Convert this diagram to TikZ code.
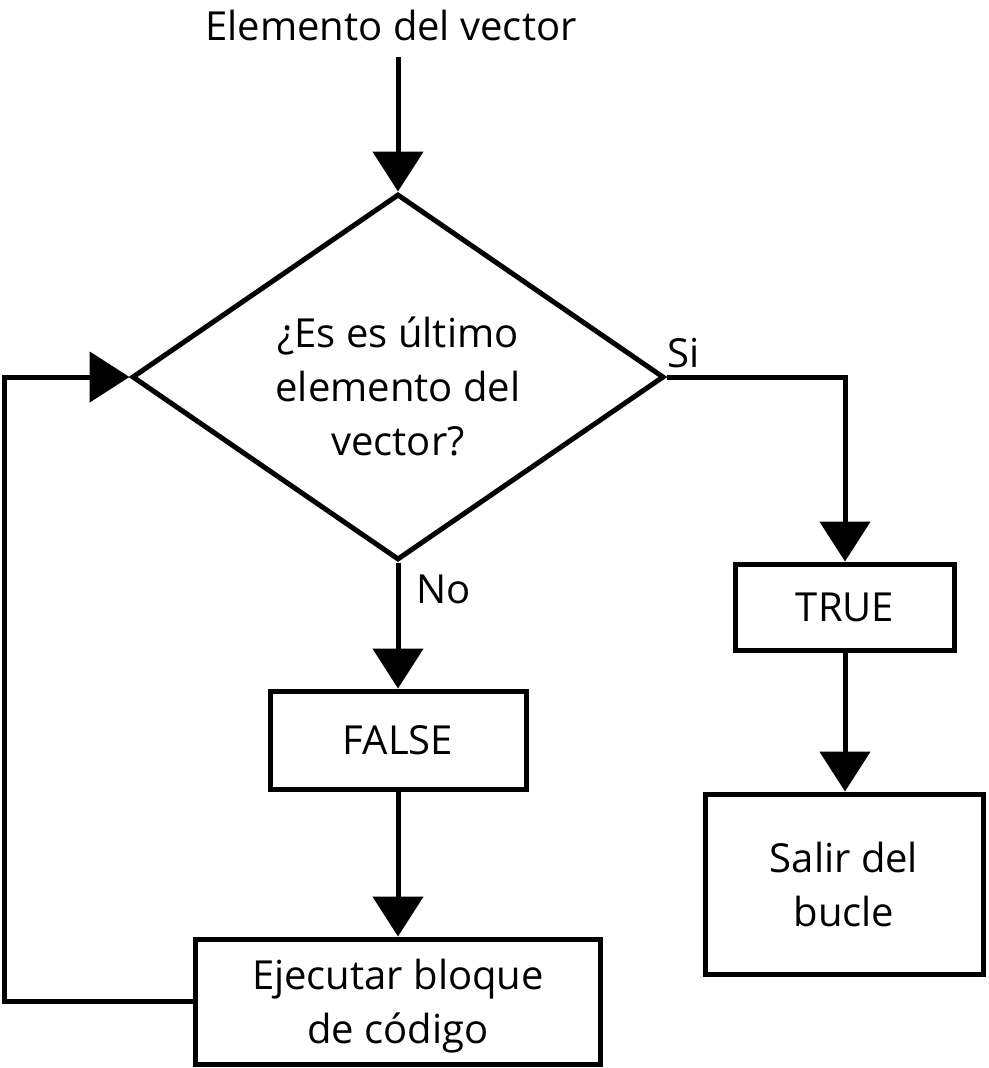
\documentclass[tikz,border=0pt]{standalone}
\usepackage{fontspec}
\setmainfont{Open Sans}
\usetikzlibrary{arrows.meta,shapes.geometric}
\begin{document}
\begin{tikzpicture}[x=1pt,y=-1pt,
  every node/.style={font=\fontsize{40}{54}\selectfont},
  conn/.style={line width=5pt,line join=miter},
  arr/.style={conn,-{Triangle[length=40pt,width=50pt]}},
  boxnode/.style={draw,line width=5pt,rectangle,inner sep=0pt,align=center},
  txt/.style={inner sep=0pt,align=center},
  lbl/.style={inner sep=0pt,anchor=base west}]
\useasboundingbox (0,0) rectangle (988,1068);
\node[inner sep=0pt,anchor=base] (title) at (391,40) {Elemento del vector};
\coordinate (start) at (398,57);
\node[draw,line width=5pt,diamond,aspect=1.45,minimum width=532pt,minimum height=366pt,inner sep=0pt] (dec) at (398,377) {};
\node[txt] (dectext) at (398,386) {¿Es es último\\elemento del\\vector?};
\node[boxnode,minimum width=219pt,minimum height=86pt] (true) at (845,607) {TRUE};
\node[boxnode,minimum width=278pt,minimum height=180pt] (salir) at (844,884) {Salir del\\bucle};
\node[boxnode,minimum width=256pt,minimum height=98pt] (false) at (398,740) {FALSE};
\node[boxnode,minimum width=405pt,minimum height=125pt] (ejec) at (398,1001.5) {};
\node[txt] (ejectext) at (398,1006) {Ejecutar bloque\\de código};
\coordinate (lp) at (4,377);
\node[lbl] (si) at (667,367) {Si};
\node[lbl] (no) at (416,603) {No};
\draw[arr] (start) -- (dec.north);
\draw[arr] (dec.east) -| (true.north);
\draw[arr] (true.south) -- (true.south |- salir.north);
\draw[arr] (dec.south) -- (false.north);
\draw[arr] (false.south) -- (ejec.north);
\draw[arr] (ejec.west) -| (lp) -- (dec.west);
\end{tikzpicture}
\end{document}
